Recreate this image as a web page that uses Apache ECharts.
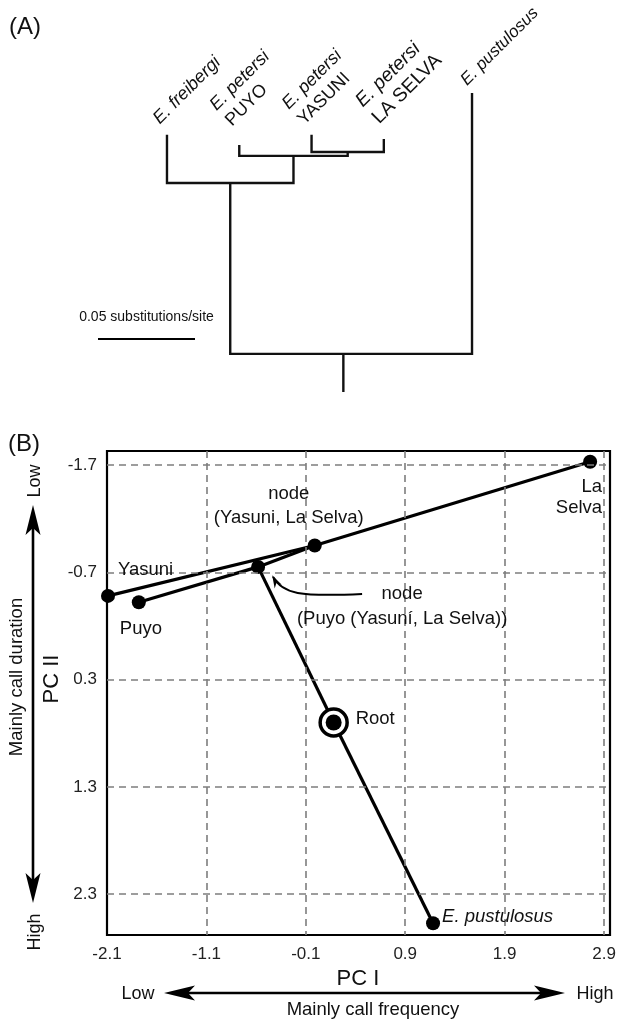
<!DOCTYPE html>
<html><head><meta charset="utf-8">
<script src="https://cdn.jsdelivr.net/npm/echarts@6/dist/echarts.min.js"></script>
<style>html,body{margin:0;padding:0;background:#fff}#c{width:619px;height:1021px}</style>
</head><body><div id="c"></div>
<script>
// ---------- Panel A: phylogeny (branch depths in substitutions/site from root) ----------
const treeTips = ['E. freibergi', 'E. petersi PUYO', 'E. petersi YASUNI', 'E. petersi LA SELVA', 'E. pustulosus'];
const tipDepth = [0.1129, 0.1077, 0.1129, 0.1108, 0.1345];
const cladeNames = ['YasuniLaSelva', 'PetersiClade', 'IngroupClade', 'Root'];
const cladeChildren = [
  ['E. petersi YASUNI', 'E. petersi LA SELVA'],
  ['E. petersi PUYO', 'YasuniLaSelva'],
  ['E. freibergi', 'PetersiClade'],
  ['IngroupClade', 'E. pustulosus']
];
const cladeDepth = [0.1041, 0.1021, 0.0881, 0];
const rootStemLength = 0.0196;
const scaleBarValue = 0.05;
const scaleBarLabel = '0.05 substitutions/site';

// ---------- Panel B: PC space ----------
const pcNames = ['Yasuni', 'Puyo', 'nodeP', 'nodeYLS', 'La Selva', 'Root', 'E. pustulosus'];
const pc1 = [-2.09, -1.78, -0.58, -0.01, 2.76, 0.18, 1.18];
const pc2 = [-0.48, -0.42, -0.75, -0.95, -1.73, 0.70, 2.57];
const pcEdges = [['Yasuni', 'nodeYLS'], ['nodeYLS', 'La Selva'], ['Puyo', 'nodeP'], ['nodeP', 'nodeYLS'], ['nodeP', 'Root'], ['Root', 'E. pustulosus']];
const xTicks = [-2.1, -1.1, -0.1, 0.9, 1.9, 2.9];
const yTicks = [-1.7, -0.7, 0.3, 1.3, 2.3];

// ---------- layout (tree horizontal slots) ----------
const tipSlot = [0, 1, 2, 3, 4.22];
const rootSlot = 2.44;

const FONT = '"Liberation Sans", Arial, sans-serif';
const chart = echarts.init(document.getElementById('c'), null, {renderer: 'canvas'});

// tree geometry
const slotOf = {}, depthOf = {};
treeTips.forEach((n, i) => { slotOf[n] = tipSlot[i]; depthOf[n] = tipDepth[i]; });
cladeNames.forEach((n, i) => {
  const [a, b] = cladeChildren[i];
  slotOf[n] = n === 'Root' ? rootSlot : (slotOf[a] + slotOf[b]) / 2;
  depthOf[n] = cladeDepth[i];
});
const treeLines = cladeNames.map((n, i) => {
  const [a, b] = cladeChildren[i];
  return {coords: [[slotOf[a], depthOf[a]], [slotOf[a], depthOf[n]], [slotOf[b], depthOf[n]], [slotOf[b], depthOf[b]]]};
});
treeLines.push({coords: [[slotOf.Root, 0], [slotOf.Root, -rootStemLength]]});

const pt = {};
pcNames.forEach((n, i) => { pt[n] = [pc1[i], pc2[i]]; });
const edgeData = pcEdges.map(e => ({coords: [pt[e[0]], pt[e[1]]]}));
const dotData = pcNames.filter(n => n !== 'Root').map(n => pt[n]);

const gridStyle = {type: [7, 5], color: '#7d7d7d', width: 1.6};

chart.setOption({
  animation: false,
  grid: [
    {left: 107, top: 451, right: 9, bottom: 86, show: true, borderColor: '#000', borderWidth: 2.2, backgroundColor: 'transparent'},
    {left: 94.7, top: 82.3, right: 90.6, bottom: 608.9, show: false}
  ],
  xAxis: [
    {type: 'value', gridIndex: 0, min: -2.1, max: 2.96, axisLine: {show: false}, axisTick: {show: false}, splitLine: {show: false},
     axisLabel: {customValues: xTicks, formatter: v => v.toFixed(1), fontSize: 17, color: '#222', fontFamily: FONT, margin: 11}},
    {type: 'value', gridIndex: 1, min: -1, max: 5, show: false, splitLine: {show: false}}
  ],
  yAxis: [
    {type: 'value', gridIndex: 0, inverse: true, min: -1.83, max: 2.68, axisLine: {show: false}, axisTick: {show: false}, splitLine: {show: false},
     axisLabel: {customValues: yTicks, formatter: v => v.toFixed(1), fontSize: 17, color: '#222', fontFamily: FONT, margin: 10}},
    {type: 'value', gridIndex: 1, min: -0.03, max: 0.14, show: false, splitLine: {show: false}}
  ],
  series: [
    {type: 'line', xAxisIndex: 0, yAxisIndex: 0, data: [], z: 1, silent: true,
     markLine: {silent: true, symbol: 'none', label: {show: false}, lineStyle: gridStyle, animation: false,
       data: xTicks.slice(1).map(v => ({xAxis: v})).concat(yTicks.map(v => ({yAxis: v})))}},
    {type: 'lines', coordinateSystem: 'cartesian2d', xAxisIndex: 0, yAxisIndex: 0, z: 3, data: edgeData,
     lineStyle: {color: '#000', width: 3.2, opacity: 1}},
    {type: 'scatter', xAxisIndex: 0, yAxisIndex: 0, z: 4, data: dotData, symbolSize: 14, itemStyle: {color: '#000', opacity: 1}},
    {type: 'scatter', xAxisIndex: 0, yAxisIndex: 0, z: 4, data: [pt.Root], symbolSize: 27,
     itemStyle: {color: '#fff', borderColor: '#000', borderWidth: 3.5, opacity: 1}},
    {type: 'scatter', xAxisIndex: 0, yAxisIndex: 0, z: 5, data: [pt.Root], symbolSize: 16, itemStyle: {color: '#000', opacity: 1}},
    {type: 'lines', coordinateSystem: 'cartesian2d', polyline: true, xAxisIndex: 1, yAxisIndex: 1, z: 3, data: treeLines,
     lineStyle: {color: '#111', width: 2.4, opacity: 1}}
  ]
});

const P = p => chart.convertToPixel({xAxisIndex: 0, yAxisIndex: 0}, p);
const T = p => chart.convertToPixel({xAxisIndex: 1, yAxisIndex: 1}, p);
const G = [];
function txt(x, y, text, o) {
  o = o || {};
  G.push({type: 'text', x: x, y: y, rotation: o.rot || 0, z: 10,
    style: {text: text, fontSize: o.size || 18.5, fontFamily: FONT, fontStyle: o.italic ? 'italic' : 'normal',
      fill: o.color || '#111', align: o.align || 'center', verticalAlign: o.va || 'middle',
      lineHeight: o.lh, rich: o.rich}});
}
function poly(points) { G.push({type: 'polygon', z: 10, shape: {points: points}, style: {fill: '#000'}}); }
function seg(x1, y1, x2, y2, w) { G.push({type: 'line', z: 10, shape: {x1, y1, x2, y2}, style: {stroke: '#000', lineWidth: w || 2.4}}); }

// panel letters
txt(9, 27, '(A)', {size: 24, align: 'left', color: '#111'});
txt(8, 444, '(B)', {size: 24, align: 'left', color: '#111'});

// tree tip labels
const tipOffsets = [[-3, -6], [-3, -14], [-3, -5], [0, -10], [-1, -3]];
const tipSizes = [18, 18, 18, 19.5, 17];
treeTips.forEach((name, i) => {
  const parts = name.split(' ');
  const sp = parts.slice(0, 2).join(' ');
  const pop = parts.slice(2).join(' ');
  const p = T([tipSlot[i], tipDepth[i]]);
  const s = tipSizes[i];
  const text = pop ? '{i|' + sp + '}\n{n|' + pop + '}' : '{i|' + sp + '}';
  G.push({type: 'text', x: p[0] + tipOffsets[i][0], y: p[1] + tipOffsets[i][1], rotation: Math.PI / 4, z: 10,
    style: {text: text, align: 'left', verticalAlign: 'bottom', fill: '#111',
      rich: {i: {fontStyle: 'italic', fontSize: s, fontFamily: FONT, lineHeight: s + 4, fill: '#111'},
             n: {fontSize: s, fontFamily: FONT, lineHeight: s + 4, fill: '#111'}}}});
});
// scale bar
const barLen = T([0, 0])[1] - T([0, scaleBarValue])[1];
seg(98, 339, 98 + barLen, 339, 2);
txt(98 + barLen / 2, 317, scaleBarLabel, {size: 14});

// panel B point labels
const pp = n => P(pt[n]);
let q;
q = pp('nodeYLS'); txt(q[0] - 26, q[1] - 40, 'node\n(Yasuni, La Selva)', {lh: 24});
q = pp('Yasuni'); txt(q[0] + 10, q[1] - 26, 'Yasuni', {align: 'left'});
q = pp('Puyo'); txt(q[0] - 19, q[1] + 27, 'Puyo', {align: 'left'});
q = pp('nodeP'); txt(q[0] + 144, q[1] + 40, 'node\n(Puyo (Yasuní, La Selva))', {lh: 25});
q = pp('La Selva'); txt(q[0] + 12, q[1] + 36, 'La\nSelva', {align: 'right', lh: 21});
q = pp('Root'); txt(q[0] + 22, q[1] - 4, 'Root', {align: 'left'});
q = pp('E. pustulosus'); txt(q[0] + 9, q[1] - 6, 'E. pustulosus', {align: 'left', italic: true});

// curved arrow to nodeP
q = pp('nodeP');
const S = [q[0] + 104, q[1] + 27], C1 = [q[0] + 42, q[1] + 30], C2 = [q[0] + 24, q[1] + 27], E = [q[0] + 15, q[1] + 10];
G.push({type: 'bezierCurve', z: 10, shape: {x1: S[0], y1: S[1], cpx1: C1[0], cpy1: C1[1], cpx2: C2[0], cpy2: C2[1], x2: E[0], y2: E[1]},
  style: {stroke: '#000', lineWidth: 2, fill: null}});
(function () {
  const dx = E[0] - C2[0], dy = E[1] - C2[1], L = Math.hypot(dx, dy), ux = dx / L, uy = dy / L;
  const bx = E[0] - ux * 11, by = E[1] - uy * 11;
  poly([[E[0] + ux * 2, E[1] + uy * 2], [bx - uy * 4, by + ux * 4], [E[0] - ux * 7, E[1] - uy * 7], [bx + uy * 4, by - ux * 4]]);
})();

// axis titles & direction arrows
txt(358, 979, 'PC I', {size: 22});
txt(373, 1010, 'Mainly call frequency', {size: 18.5});
txt(138, 994, 'Low', {size: 18});
txt(595, 994, 'High', {size: 18});
seg(185, 993, 545, 993, 2.6);
poly([[164, 993], [195, 985.5], [188, 993], [195, 1000.5]]);
poly([[565, 993], [534, 985.5], [541, 993], [534, 1000.5]]);

txt(52, 679, 'PC II', {size: 22, rot: Math.PI / 2});
txt(17, 677, 'Mainly call duration', {size: 18.5, rot: Math.PI / 2});
txt(35, 481, 'Low', {size: 18, rot: Math.PI / 2});
txt(35, 932, 'High', {size: 18, rot: Math.PI / 2});
seg(33, 525, 33, 882, 2.6);
poly([[33, 505], [25.5, 535], [33, 528], [40.5, 535]]);
poly([[33, 903], [25.5, 873], [33, 880], [40.5, 873]]);

chart.setOption({graphic: G});
</script></body></html>
